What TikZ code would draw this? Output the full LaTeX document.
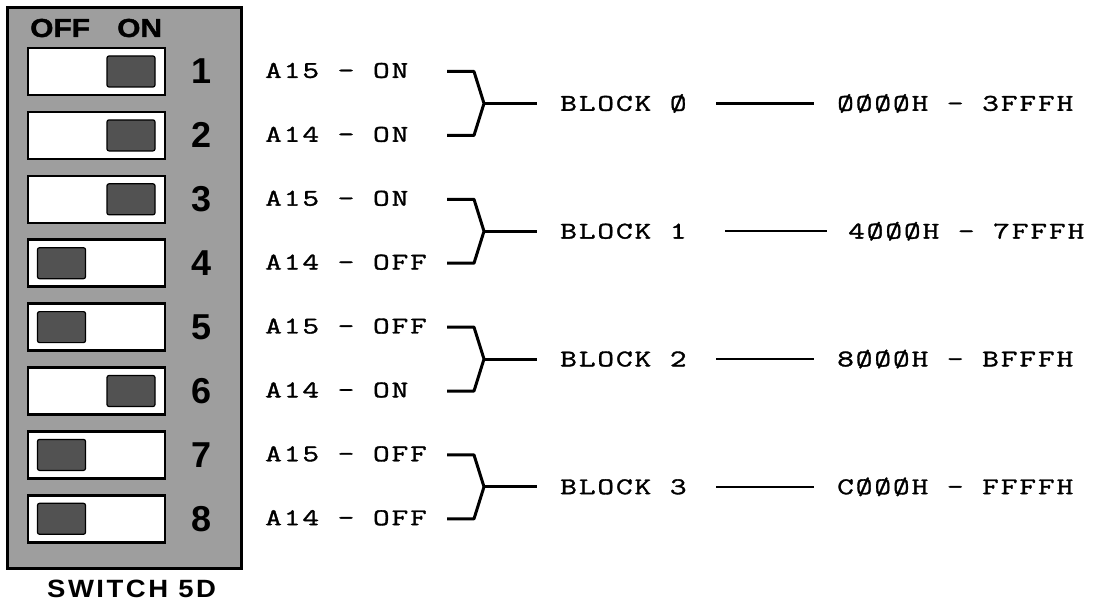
\documentclass[tikz,border=0pt]{standalone}
\usepackage{fontspec}
\newfontfamily\tw[FakeStretch=1.35,LetterSpace=8,FakeBold=1.4]{Latin Modern Mono}
\newfontfamily\hdrf[FakeStretch=1.15,FakeBold=1.5]{Liberation Sans}
\newfontfamily\swf[FakeStretch=1.1,LetterSpace=10]{Liberation Sans}
\newfontfamily\numf{Liberation Sans}
\begin{document}
\begin{tikzpicture}[x=1pt,y=-1pt,
  panelbox/.style={draw=black,line width=3pt,fill=black!38},
  slot/.style={draw=black,line width=2.6pt,fill=white,minimum width=137pt,minimum height=47pt,inner sep=0pt,outer sep=0pt},
  knob/.style={draw=black,line width=1.2pt,fill=black!68,rounded corners=2pt,minimum width=48pt,minimum height=31pt,inner sep=0pt},
  num/.style={font=\numf\bfseries\fontsize{36}{36}\selectfont,inner sep=0pt},
  hdr/.style={font=\hdrf\bfseries\fontsize{26}{26}\selectfont,anchor=west,inner sep=0pt},
  lbl/.style={font=\tw\fontsize{24}{24}\selectfont,anchor=west,inner sep=0pt},
  brk/.style={line width=3pt,line join=round},
  blk/.style={line width=2.4pt}]
\useasboundingbox (0,0) rectangle (1104,602);
% panel
\node[panelbox,minimum width=234pt,minimum height=560pt,inner sep=0pt] (panel) at (124,288) {};
\node[hdr] (off) at (30,28) {OFF};
\node[hdr] (on) at (117,28) {ON};
% switches
\foreach \i/\kx/\txt in {1/131/A15 - ON,2/131/A14 - ON,3/131/A15 - ON,4/61.5/A14 - OFF,5/61.5/A15 - OFF,6/131/A14 - ON,7/61.5/A15 - OFF,8/61.5/A14 - OFF}{
  \pgfmathsetmacro{\cy}{71.5+(\i-1)*63.9}
  \node[slot] (s\i) at (96.5,\cy) {};
  \node[knob] (k\i) at (\kx,\cy) {};
  \node[num] (n\i) at (202,\cy) {\i};
  \node[lbl] (r\i) at (265,\cy-1) {\txt};
}
\node[font=\swf\bfseries\fontsize{25}{25}\selectfont,anchor=west,inner sep=0pt] (sw) at (47,589) {SWITCH 5D};
% brackets and blocks
\foreach \k/\bl/\addr/\ls/\le/\ax in {0/BLOCK Ø/ØØØØH - 3FFFH/716/814/837,1/BLOCK 1/4ØØØH - 7FFFH/725/827/848,2/BLOCK 2/8ØØØH - BFFFH/716/814/837,3/BLOCK 3/CØØØH - FFFFH/716/814/837}{
  \pgfmathsetmacro{\ya}{71.5+(2*\k)*63.9}
  \pgfmathsetmacro{\yb}{71.5+(2*\k+1)*63.9}
  \pgfmathsetmacro{\ym}{(\ya+\yb)/2}
  \coordinate (ta\k) at (447,\ya);
  \coordinate (ka\k) at (474,\ya);
  \coordinate (j\k) at (484,\ym);
  \coordinate (kb\k) at (474,\yb);
  \coordinate (tb\k) at (447,\yb);
  \coordinate (je\k) at (537,\ym);
  \draw[brk] (ta\k) -- (ka\k) -- (j\k) -- (kb\k) -- (tb\k);
  \draw[brk] (j\k) -- (je\k);
  \node[lbl] (b\k) at (560,\ym) {\bl};
  \coordinate (ls\k) at (\ls,\ym);
  \coordinate (le\k) at (\le,\ym);
  \draw[blk] (ls\k) -- (le\k);
  \node[lbl] (a\k) at (\ax,\ym) {\addr};
}
\end{tikzpicture}
\end{document}
